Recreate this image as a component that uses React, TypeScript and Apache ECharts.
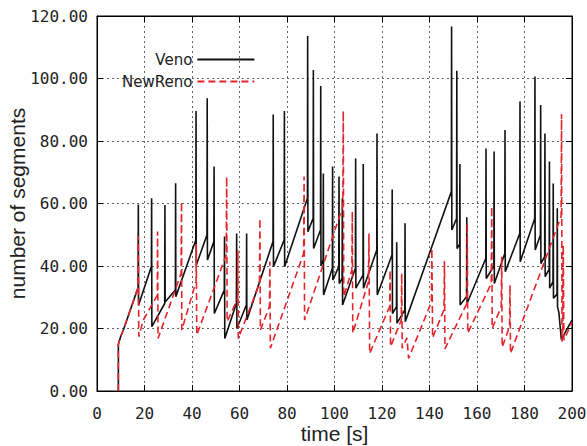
import React, { useEffect, useRef } from "react";
import * as echarts from "echarts";

const seriesNames = ["Veno", "NewReno"];

const xTicks = { min: 0, max: 200, step: 20 };
const yTicks = { min: 0, max: 120, step: 20 };

// [time (s), segments]
const venoData: [number, number][] = [
  [9.0, 0], [9.0, 15], [10, 17.5], [11.1, 19.5], [16.7, 31.8],
  [17.3, 33], [17.4, 59.7], [17.5, 27.5],
  [22.9, 39.8], [23.0, 61.7], [23.1, 20.6],
  [28.5, 28], [28.6, 59.5], [28.7, 28.5],
  [33.0, 32.3], [33.1, 66.5], [33.2, 30.2],
  [41.6, 48.3], [41.7, 89.6], [41.8, 40.3],
  [46.3, 49.9], [46.4, 93.7], [46.5, 41.9],
  [49.2, 47.8], [49.3, 71.8], [49.4, 24.8],
  [53.6, 32.3], [53.7, 49.4], [53.8, 16.8],
  [58.7, 28.1], [58.8, 50.4], [58.9, 20],
  [62.9, 27.5], [63.0, 50.4], [63.1, 22.7],
  [74.1, 47.8], [74.2, 88.5], [74.3, 39.8],
  [78.8, 48.3], [78.9, 89.6], [79.0, 39.8],
  [88.6, 61.7], [88.7, 113.6], [88.8, 51],
  [91.0, 55.3], [91.1, 102.7], [91.2, 45.6],
  [94.1, 51.5], [94.2, 97.6], [94.3, 40],
  [95.2, 42], [95.3, 69.6], [95.4, 30.7],
  [99.1, 39.3], [99.2, 71.8], [99.3, 35.5],
  [101.8, 39.8], [101.9, 68.6], [102.0, 34.4],
  [103.2, 36], [103.3, 61.7], [103.4, 27.5],
  [108.8, 39.3], [108.9, 74.4], [109.0, 32.9],
  [112.0, 37.1], [112.1, 72.6], [112.2, 32.9],
  [117.8, 45.1], [117.9, 82.4], [118.0, 30.7],
  [124.2, 43.5], [124.3, 64.5], [124.4, 24.8],
  [126.1, 27], [126.2, 47.6], [126.3, 21.7],
  [129.6, 25.9], [129.7, 53.7], [129.8, 22.2],
  [149.2, 63.8], [149.3, 116.6], [149.4, 51.5],
  [151.4, 55.2], [151.5, 102.5], [151.6, 45.6],
  [152.7, 47], [152.8, 72.6], [152.9, 27.5],
  [155.6, 30.2], [155.7, 55.6], [155.8, 28],
  [163.7, 42.4], [163.8, 77.6], [163.9, 36],
  [167.1, 40], [167.2, 76.6], [167.3, 34.4],
  [171.7, 44], [171.8, 83.5], [171.9, 38.2],
  [178.0, 50.4], [178.1, 92.6], [178.2, 41.4],
  [184.3, 55.2], [184.4, 100.6], [184.5, 45.1],
  [186.7, 49.9], [186.8, 91.5], [186.9, 40.8],
  [188.5, 43], [188.6, 82.4], [188.7, 36.6],
  [190.4, 39], [190.5, 73.4], [190.6, 32.9],
  [192.0, 35], [192.1, 66.4], [192.2, 29.7],
  [193.7, 31], [193.8, 58.5], [193.9, 27],
  [194.5, 25], [195.5, 16.5], [200, 22.7],
];

const newRenoData: [number, number][] = [
  [9.0, 0], [9.0, 15], [10, 17.5], [11.1, 19.5], [16.7, 31.8],
  [17.3, 33], [17.4, 49.4], [17.6, 17.4],
  [19.5, 22.7], [25.4, 30.7], [25.5, 51], [25.7, 16.8],
  [35.4, 37.6], [35.6, 60.6], [35.7, 19.5],
  [41.7, 35], [41.8, 47], [42.0, 17.9],
  [54.4, 43.5], [54.6, 68.6], [54.8, 22.2],
  [59.2, 29.5], [59.3, 45], [59.5, 16.8],
  [68.4, 34.4], [68.6, 55.2], [68.8, 19.5],
  [72.6, 27], [72.8, 41.4], [73.0, 13.7],
  [87.0, 44], [87.2, 68.6], [87.4, 22.7],
  [103.5, 59], [103.7, 89.6], [103.9, 30.2],
  [107.3, 38.7], [107.5, 57.4], [107.7, 18.5],
  [114.3, 35], [114.5, 50.4], [114.8, 12],
  [123.2, 27], [123.4, 38.7], [123.6, 14.2],
  [128.1, 22.7], [128.3, 37.6], [128.5, 13.7],
  [130.5, 17], [131.2, 10.4],
  [140.8, 28.5], [141.0, 45.6], [141.3, 17],
  [146.1, 26], [146.3, 41.6], [146.5, 13.5],
  [155.7, 28], [155.9, 53.6], [156.1, 18.5],
  [166.0, 34.4], [166.2, 59], [166.4, 20],
  [170.2, 27], [170.4, 43], [170.6, 14],
  [173.7, 20.6], [173.9, 33.9], [174.1, 12],
  [195.4, 55.8], [195.6, 88.6], [195.8, 15.8],
  [196.1, 19], [196.3, 46.7], [196.6, 16.3],
  [200, 22],
];

const monoFont = "DejaVu Sans Mono";
const sansFont = "Liberation Sans";

export default function App() {
  const ref = useRef<HTMLDivElement>(null);

  useEffect(() => {
    if (!ref.current) return;
    const chart = echarts.init(ref.current, null, { renderer: "svg" });

    const tick = { show: true, inside: true, length: 6, lineStyle: { color: "#000", width: 1 } };
    const axisLine = { show: true, onZero: false, lineStyle: { color: "#000", width: 1 } };
    const split = { show: true, lineStyle: { type: [2, 3], color: "#666", width: 1 } };

    chart.setOption({
      animation: false,
      backgroundColor: "#fff",
      grid: {
        left: 97,
        right: 15,
        top: 16,
        bottom: 55,
        containLabel: false,
        outerBoundsMode: "none",
        show: true,
        borderColor: "#000",
        borderWidth: 1,
        backgroundColor: "transparent",
      },
      legend: {
        data: seriesNames,
        orient: "vertical",
        align: "right",
        left: 122,
        top: 52,
        padding: 0,
        itemWidth: 57,
        itemHeight: 12,
        itemGap: 7,
        itemStyle: { opacity: 0, color: "transparent", borderWidth: 0 },
        textStyle: { fontFamily: "DejaVu Sans", fontSize: 15, color: "#222" },
      },
      xAxis: [
        {
          type: "value",
          min: xTicks.min,
          max: xTicks.max,
          interval: xTicks.step,
          position: "bottom",
          axisLine,
          axisTick: tick,
          axisLabel: { fontFamily: monoFont, fontSize: 16, color: "#222", margin: 14 },
          splitLine: split,
          name: "time [s]",
          nameLocation: "middle",
          nameGap: 32,
          nameMoveOverlap: false,
          nameTextStyle: { fontFamily: sansFont, fontSize: 21, color: "#222", lineHeight: 21 },
        },
        {
          type: "value",
          min: xTicks.min,
          max: xTicks.max,
          interval: xTicks.step,
          position: "top",
          axisLine,
          axisTick: tick,
          axisLabel: { show: false },
          splitLine: { show: false },
        },
      ],
      yAxis: [
        {
          type: "value",
          min: yTicks.min,
          max: yTicks.max,
          interval: yTicks.step,
          position: "left",
          axisLine,
          axisTick: tick,
          axisLabel: {
            fontFamily: monoFont,
            fontSize: 16,
            color: "#222",
            margin: 9,
            formatter: (v: number) => v.toFixed(2),
          },
          splitLine: split,
          name: "number of segments",
          nameLocation: "middle",
          nameGap: 69,
          nameMoveOverlap: false,
          nameTextStyle: { fontFamily: sansFont, fontSize: 21, color: "#222", lineHeight: 21 },
        },
        {
          type: "value",
          min: yTicks.min,
          max: yTicks.max,
          interval: yTicks.step,
          position: "right",
          axisLine,
          axisTick: tick,
          axisLabel: { show: false },
          splitLine: { show: false },
        },
      ],
      series: [
        {
          name: seriesNames[0],
          type: "line",
          data: venoData,
          symbol: "none",
          showSymbol: false,
          xAxisIndex: 0,
          yAxisIndex: 0,
          itemStyle: { color: "#111" },
          lineStyle: { color: "#111", width: 1.6 },
        },
        {
          name: seriesNames[1],
          type: "line",
          data: newRenoData,
          symbol: "none",
          showSymbol: false,
          xAxisIndex: 0,
          yAxisIndex: 0,
          itemStyle: { color: "#e3242b" },
          lineStyle: { color: "#e3242b", width: 1.6, type: [7, 4] },
        },
      ],
    });

    return () => chart.dispose();
  }, []);

  return (
    <div
      ref={ref}
      style={{ position: "fixed", left: 0, top: 0, width: 587, height: 446, background: "#fff" }}
    />
  );
}
